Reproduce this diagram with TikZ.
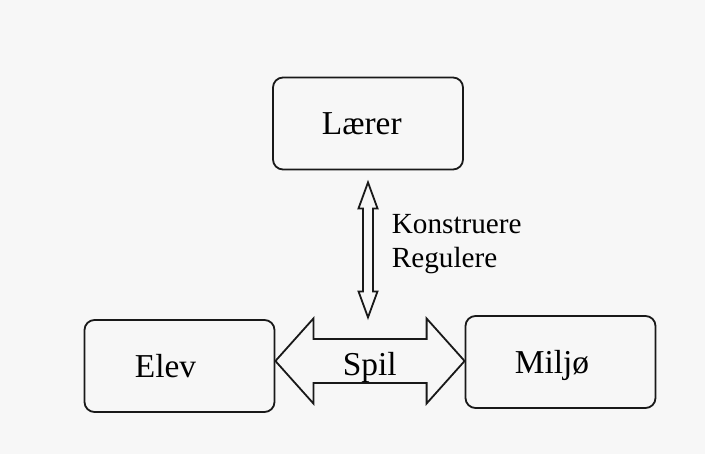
\documentclass[tikz,border=0pt]{standalone}
\usepackage{fontspec}
\setmainfont{Liberation Serif}
\usetikzlibrary{calc}
\begin{document}
\begin{tikzpicture}[x=0.5pt,y=-0.5pt,
  box/.style={draw=black!90, line width=0.9pt, rounded corners=5pt, minimum width=95pt, minimum height=46pt, inner sep=0pt},
  lbl/.style={anchor=base west, inner sep=0pt, font=\fontsize{16.7}{20}\selectfont},
  side/.style={anchor=base west, inner sep=0pt, font=\fontsize{14.6}{17}\selectfont},
  arr/.style={draw=black!90, line width=0.9pt, line join=miter}]
\fill[white!97!black] (0,0) rectangle (705,454);
\useasboundingbox (0,0) rectangle (705,454);
% boxes
\node[box] (laerer) at (368,123.5) {};
\node[box] (elev) at (179.5,366) {};
\node[box] (miljo) at (560.5,362) {};
% labels
\node[lbl] (laerert) at (321.5,135) {Lærer};
\node[lbl] (elevt) at (134.5,377) {Elev};
\node[lbl] (miljot) at (514.5,373) {Miljø};
% vertical double arrow
\coordinate (vt) at ($(laerer.south)+(0,12)$);
\coordinate (vb) at ($(laerer.south)+(0,147)$);
\draw[arr] (vt) -- ($(vt)+(9.5,26)$) -- ($(vt)+(5,26)$) -- ($(vb)+(5,-26)$) -- ($(vb)+(9.5,-26)$)
  -- (vb) -- ($(vb)+(-9.5,-26)$) -- ($(vb)+(-5,-26)$) -- ($(vt)+(-5,26)$) -- ($(vt)+(-9.5,26)$) -- cycle;
\node[side] (konst) at (391.5,233) {Konstruere};
\node[side] (regul) at (391.5,267) {Regulere};
% horizontal double arrow
\coordinate (hm) at (370,361);
\coordinate (hl) at (elev.east |- hm);
\coordinate (hr) at (miljo.west |- hm);
\draw[arr] (hl) -- ($(hl)+(38,-42.5)$) -- ($(hl)+(38,-22)$) -- ($(hr)+(-38,-22)$) -- ($(hr)+(-38,-42.5)$)
  -- (hr) -- ($(hr)+(-38,42.5)$) -- ($(hr)+(-38,22)$) -- ($(hl)+(38,22)$) -- ($(hl)+(38,42.5)$) -- cycle;
\node[lbl] (spil) at (342.5,375) {Spil};
\end{tikzpicture}
\end{document}
